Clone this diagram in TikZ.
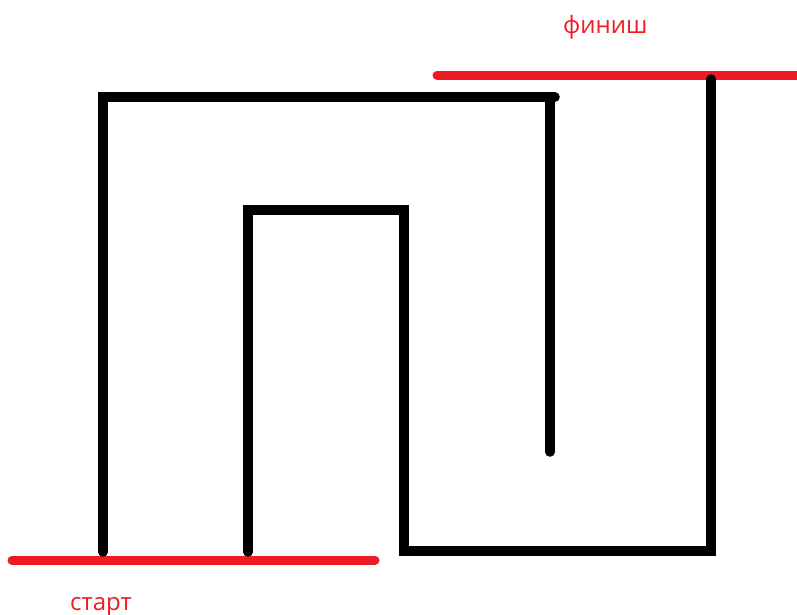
\documentclass[tikz,border=0pt]{standalone}
\usepackage{fontspec}
\setmainfont{Open Sans}
\definecolor{paintred}{RGB}{237,28,36}
\tikzset{
  wall/.style={line width=9.5pt, black, line cap=round, line join=miter},
  goal/.style={line width=9pt, paintred, line cap=round},
  lbl/.style={text=paintred, font=\fontsize{24}{28}\selectfont, inner sep=0pt, anchor=base west}
}
\begin{document}
\begin{tikzpicture}[x=1pt,y=-1pt]
\useasboundingbox[fill=white] (0,0) rectangle (797,614);
% goal lines
\coordinate (s1) at (12,560);
\coordinate (s2) at (375,560);
\coordinate (f1) at (437,75);
\coordinate (f2) at (800,75);
\draw[goal] (s1) -- (s2);
\draw[goal] (f1) -- (f2);
% labels
\node[lbl] (start) at (70,610) {старт};
\node[lbl] (finish) at (563,33) {финиш};
% walls
\coordinate (a1) at (103,552);
\coordinate (a2) at (103,97);
\coordinate (a3) at (555,97);
\coordinate (a4) at (550,97);
\coordinate (a5) at (550,452);
\draw[wall] (a1) -- (a2) -- (a3);
\draw[wall] (a4) -- (a5);
\coordinate (b1) at (248,552);
\coordinate (b2) at (248,210);
\coordinate (b3) at (404,210);
\coordinate (b4) at (404,551);
\coordinate (b5) at (711,551);
\coordinate (b6) at (711,79);
\draw[wall] (b1) -- (b2) -- (b3) -- (b4) -- (b5) -- (b6);
\end{tikzpicture}
\end{document}
